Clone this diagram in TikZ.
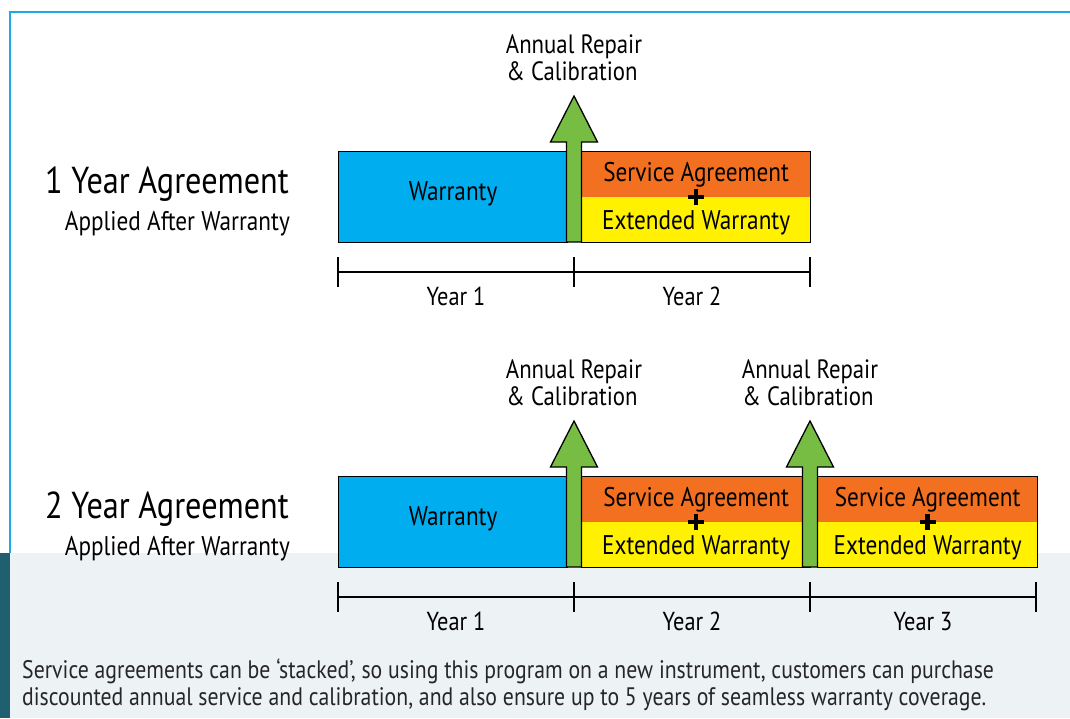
\documentclass[tikz,border=0pt]{standalone}
\usepackage{fontspec}
\setmainfont{PT Sans}[FakeStretch=0.86]
\usetikzlibrary{calc}
\definecolor{warrblue}{HTML}{00AEEF}
\definecolor{svcorange}{HTML}{F37021}
\definecolor{svcyellow}{HTML}{FFF100}
\definecolor{calgreen}{HTML}{77BD43}
\definecolor{frameblue}{HTML}{1DAAE3}
\definecolor{panelgray}{HTML}{EDF2F4}
\definecolor{stripteal}{HTML}{1F5F70}
\tikzset{
 warrbox/.style={draw=black,line width=1.3pt,fill=warrblue,anchor=north west,
   minimum width=229pt,minimum height=91pt,inner sep=0pt},
 svcbox/.style={draw=black,line width=1.3pt,fill=svcyellow,anchor=north west,
   minimum width=#1,minimum height=91pt,inner sep=0pt,
   path picture={\fill[svcorange] (path picture bounding box.north west)
     rectangle (path picture bounding box.east);}},
 boxtext/.style={anchor=base,inner sep=0pt,font=\fontsize{27}{29}\selectfont},
 yeartext/.style={anchor=base,inner sep=0pt,font=\fontsize{26}{28}\selectfont},
 caltext/.style={anchor=base,inner sep=0pt,font=\fontsize{26.5}{28}\selectfont},
 agreetext/.style={anchor=base east,inner sep=0pt,font=\fontsize{37.5}{40}\selectfont},
 subtext/.style={anchor=base east,inner sep=0pt,font=\fontsize{27}{29}\selectfont},
 notetext/.style={anchor=base west,inner sep=0pt,font=\fontsize{25.3}{27}\selectfont,text=black!85},
 calarrow/.style={draw=black,line width=1.3pt,fill=calgreen,line join=miter},
 timeline/.style={line width=1.5pt},
}
\begin{document}
\begin{tikzpicture}[x=1pt,y=-1pt]
 \useasboundingbox (0,0) rectangle (1070,718);
 % backdrop and frame
 \fill[panelgray] (10,553) rectangle (1070,718);
 \fill[stripteal] (0,553) rectangle (10,718);
 \draw[frameblue,line width=2pt] (10,553) -- (10,12) -- (1070,12);

 % 1 year agreement
 \node[agreetext] (a1) at (289,193) {1 Year Agreement};
 \node[subtext] (a1s) at (290,230) {Applied After Warranty};
 \node[warrbox] (w1) at (338,151) {};
 \node[svcbox=229pt] (s1) at (581,151) {};

 % 2 year agreement
 \node[agreetext] (a2) at (289,518) {2 Year Agreement};
 \node[subtext] (a2s) at (290,555) {Applied After Warranty};
 \node[warrbox] (w2) at (338,476) {};
 \node[svcbox=229pt] (s2) at (581,476) {};
 \node[svcbox=220pt] (s3) at (817,476) {};

 % box texts
 \foreach \w in {w1,w2}
  \node[boxtext] at ($(\w.center)+(0,3.5)$) {Warranty};
 \foreach \s in {s1,s2,s3} {
  \node[boxtext] at ($(\s.north)+(0,30)$) {Service Agreement};
  \node[boxtext] at ($(\s.north)+(0,78)$) {Extended Warranty};
  \draw[line width=4.5pt] ($(\s.center)+(-8,0)$) -- ($(\s.center)+(8,0)$);
  \draw[line width=4.5pt] ($(\s.center)+(0,-8)$) -- ($(\s.center)+(0,8)$);
 }

 % repair and calibration arrows
 \foreach \cx/\yb in {574/242,574/567,810/567} {
  \draw[calarrow] (\cx-7.5,\yb) -- (\cx-7.5,\yb-100) -- (\cx-23.5,\yb-100)
    -- (\cx,\yb-146) -- (\cx+23.5,\yb-100) -- (\cx+7.5,\yb-100) -- (\cx+7.5,\yb) -- cycle;
  \node[caltext] at (\cx,\yb-189) {Annual Repair};
  \node[caltext] at (\cx-2,\yb-162) {\& Calibration};
 }

 % timelines
 \coordinate (t1a) at (338,272); \coordinate (t1b) at (574,272); \coordinate (t1c) at (810,272);
 \draw[timeline] (t1a) -- (t1c);
 \foreach \t in {t1a,t1b,t1c}
  \draw[timeline] ($(\t)+(0,-15)$) -- ($(\t)+(0,15)$);
 \node[yeartext] at ($(t1a)!0.5!(t1b)+(0,33)$) {Year 1};
 \node[yeartext] at ($(t1b)!0.5!(t1c)+(0,33)$) {Year 2};

 \coordinate (t2a) at (338,597); \coordinate (t2b) at (574,597);
 \coordinate (t2c) at (810,597); \coordinate (t2d) at (1036,597);
 \draw[timeline] (t2a) -- (t2d);
 \foreach \t in {t2a,t2b,t2c,t2d}
  \draw[timeline] ($(\t)+(0,-15)$) -- ($(\t)+(0,15)$);
 \node[yeartext] at ($(t2a)!0.5!(t2b)+(0,33)$) {Year 1};
 \node[yeartext] at ($(t2b)!0.5!(t2c)+(0,33)$) {Year 2};
 \node[yeartext] at ($(t2c)!0.5!(t2d)+(0,33)$) {Year 3};

 % note
 \node[notetext] (n1) at (22,678)
   {Service agreements can be ‘stacked’, so using this program on a new instrument, customers can purchase};
 \node[notetext] (n2) at (22,705)
   {discounted annual service and calibration, and also ensure up to 5 years of seamless warranty coverage.};
\end{tikzpicture}
\end{document}
